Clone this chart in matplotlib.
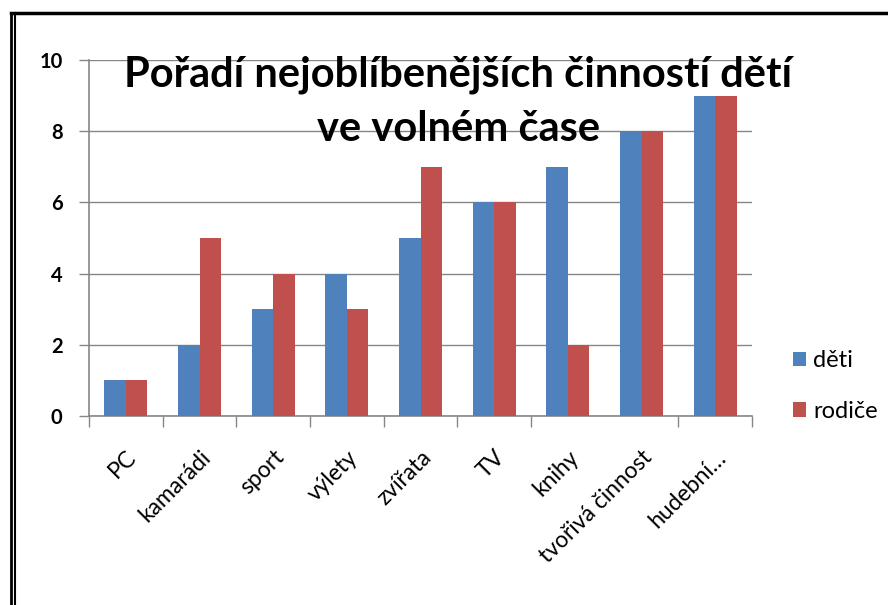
import numpy as np
import matplotlib.pyplot as plt
from matplotlib.lines import Line2D

categories = ['PC', 'kamarádi', 'sport', 'výlety', 'zvířata', 'TV', 'knihy',
              'tvořivá činnost', 'hudební…']
deti = [1, 2, 3, 4, 5, 6, 7, 8, 9]
rodice = [1, 5, 4, 3, 7, 6, 2, 8, 9]
yticks = [0, 2, 4, 6, 8, 10]

plt.rcParams['font.family'] = ['Lato', 'DejaVu Sans']

fig = plt.figure(figsize=(8.88, 6.05), dpi=100)
ax = fig.add_axes([89 / 888, 1 - 416 / 605, (752 - 89) / 888, (416 - 60) / 605])

x = np.arange(len(categories))
w = 0.29
ax.bar(x - w / 2, deti, w, color='#4F81BD', label='děti', zorder=3)
ax.bar(x + w / 2, rodice, w, color='#C0504D', label='rodiče', zorder=3)

ax.set_xlim(-0.5, len(categories) - 0.5)
ax.set_ylim(0, 10)
ax.set_yticks(yticks)
ax.set_yticklabels([str(v) for v in yticks], fontsize=14.5, fontweight='bold')
ax.yaxis.grid(True, color='#868686', linewidth=1, zorder=0)

ax.set_xticks(x)
ax.set_xticklabels(categories, rotation=45, ha='right', rotation_mode='anchor',
                   fontsize=16.5)
ax.tick_params(axis='x', length=0, pad=22)
# boundary ticks between categories (one is missing in the original)
bounds = [b for b in np.arange(-0.5, len(categories), 1.0) if b != 6.5]
ax.set_xticks(bounds, minor=True)
ax.tick_params(axis='x', which='minor', length=8, color='#868686', width=1)
ax.tick_params(axis='y', length=7, color='#868686', width=1, pad=12)

for s in ['top', 'right']:
    ax.spines[s].set_visible(False)
ax.spines['left'].set_color('#868686')
ax.spines['bottom'].set_color('#868686')
ax.spines['left'].set_linewidth(1.2)
ax.spines['bottom'].set_linewidth(1.2)

fig.text(0.516, 1 - 102 / 605, 'Pořadí nejoblíbenějších činností dětí\nve volném čase',
         ha='center', va='center', fontsize=30, fontweight='bold',
         linespacing=1.5)

ax.legend(loc='center left', bbox_to_anchor=(772 / 888, 1 - 386 / 605),
          bbox_transform=fig.transFigure, frameon=False, fontsize=17,
          handlelength=0.55, handleheight=0.55, handletextpad=0.3,
          labelspacing=1.25)

# frame lines of the original picture
fig.add_artist(Line2D([11 / 888, 1], [1 - 13 / 605, 1 - 13 / 605], color='black', lw=2.5))
fig.add_artist(Line2D([11 / 888, 11 / 888], [0, 1 - 13 / 605], color='black', lw=2))
fig.add_artist(Line2D([15 / 888, 15 / 888], [0, 1 - 13 / 605], color='black', lw=1.5))

fig.savefig('out.png', dpi=100)
